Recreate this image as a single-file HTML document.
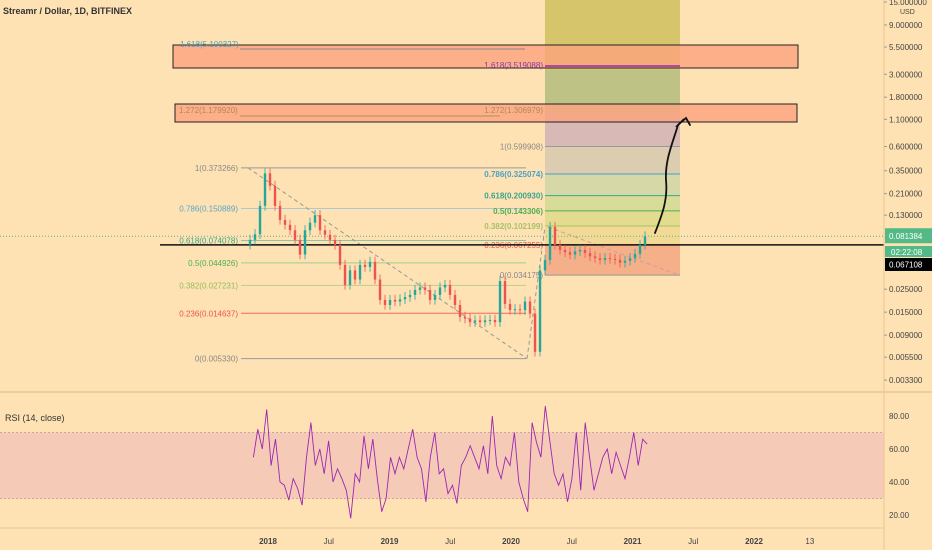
<!DOCTYPE html>
<html><head><meta charset="utf-8">
<style>
html,body{margin:0;padding:0;background:#fee2b3;}
svg{display:block;font-family:"Liberation Sans",sans-serif;}
</style></head>
<body>
<svg id="c" width="932" height="550" viewBox="0 0 932 550" xmlns="http://www.w3.org/2000/svg">
<rect x="0" y="0" width="932" height="550" fill="#fee2b3"/>
<g id="bg"></g>
<g id="fib"></g>
<g id="candles"></g>
<g id="rsi"></g>
<g id="axes"></g>
<text x="3" y="14" font-size="9" font-weight="bold" fill="#333">Streamr / Dollar, 1D, BITFINEX</text>
<text x="5" y="421" font-size="9" fill="#333">RSI (14, close)</text>
</svg>
<script>
// ---- data ----
const priceStart = 2017.852, priceEnd = 2021.103;
const closes = [0.075,0.085,0.16,0.33,0.25,0.16,0.117,0.105,0.093,0.075,0.054,0.093,0.11,0.13,0.093,0.084,0.075,0.067,0.043,0.0275,0.038,0.031,0.043,0.041,0.046,0.031,0.0197,0.0176,0.0197,0.019,0.020,0.021,0.022,0.0246,0.026,0.0246,0.0197,0.022,0.026,0.0275,0.022,0.0176,0.0135,0.013,0.012,0.0125,0.012,0.0125,0.0126,0.012,0.030,0.018,0.0157,0.016,0.0157,0.019,0.0145,0.0062,0.038,0.048,0.10,0.067,0.06,0.057,0.054,0.058,0.060,0.056,0.052,0.050,0.048,0.05,0.049,0.048,0.045,0.047,0.05,0.055,0.067,0.081];
const rsiStart = 2017.88, rsiEnd = 2021.12;
const rsiValues = [55,72,60,84,50,66,40,38,29,42,36,26,55,76,50,60,45,65,40,48,42,35,18,45,40,68,48,66,42,22,30,55,45,55,48,60,72,55,48,28,55,70,45,48,33,38,27,50,55,62,55,48,62,45,80,50,42,55,50,70,40,30,22,76,64,55,86,65,45,38,45,28,42,70,35,76,55,35,45,55,60,45,58,50,42,55,70,50,66,63];
const priceTicks = [15,9,5.5,3,1.8,1.1,0.6,0.35,0.21,0.13,0.025,0.015,0.009,0.0055,0.0033];
const priceTickLabels = ["15.000000","9.000000","5.500000","3.000000","1.800000","1.100000","0.600000","0.350000","0.210000","0.130000","0.025000","0.015000","0.009000","0.005500","0.003300"];
const rsiTicks = [80,60,40,20];
const timeTicks = [2018,2018.5,2019,2019.5,2020,2020.5,2021,2021.5,2022,2022.46];
const timeTickLabels = ["2018","Jul","2019","Jul","2020","Jul","2021","Jul","2022","13"];
const fibLeftLevels = ["1","0.786","0.618","0.5","0.382","0.236","0"];
const fibLeftPrices = [0.373266,0.150889,0.074078,0.044926,0.027231,0.014637,0.005330];
const fibRightLevels = ["1","0.786","0.618","0.5","0.382","0.236","0"];
const fibRightPrices = [0.599908,0.325074,0.200930,0.143306,0.102199,0.067255,0.034175];
const lastPrice = 0.081384, hLinePrice = 0.067108;

// ---- scales ----
const X = t => 268 + (t - 2018) * 121.5;
const Y = p => 2 + 44.9 * Math.log(15 / p);
const RY = v => 416 + (80 - v) * 1.65;
const NS = "http://www.w3.org/2000/svg";
function mk(parent, tag, attrs, txt){
  const e = document.createElementNS(NS, tag);
  for (const k in attrs) e.setAttribute(k, attrs[k]);
  if (txt !== undefined) e.textContent = txt;
  document.getElementById(parent).appendChild(e);
  return e;
}
const PL = 884;

const fx1 = 545, fx2 = 680;
let e;
e = mk("bg","rect",{x:fx1,y:0,width:fx2-fx1,height:Y(3.3),fill:"#d6c56b"});


e = mk("bg","rect",{x:fx1,y:Y(3.3),width:fx2-fx1,height:Y(1.25)-Y(3.3),fill:"#bec385"});


e = mk("bg","rect",{x:fx1,y:Y(1.25),width:fx2-fx1,height:Y(fibRightPrices[0])-Y(1.25),fill:"#d8b9b5"});


const zoneCols = ["#dccdb0","#d6d8a8","#d9dc98","#e3dc8e","#f2d995","#f5b08a"];
for (let i = 0; i < 6; i++){
  e = mk("bg","rect",{x:fx1,y:Y(fibRightPrices[i]),width:fx2-fx1,height:Y(fibRightPrices[i+1])-Y(fibRightPrices[i]),fill:zoneCols[i]});
  
  
}
e = mk("bg","rect",{x:173,y:45,width:625,height:23,fill:"#fca37e",stroke:"#222","stroke-width":1,"fill-opacity":0.8});


e = mk("bg","rect",{x:175,y:104,width:622,height:18,fill:"#fca37e",stroke:"#222","stroke-width":1,"fill-opacity":0.8});


e = mk("bg","text",{x:180,y:47,"font-size":8,fill:"#4a9fc0"},"1.618(5.100327)");


mk("bg","line",{x1:240,y1:49,x2:525,y2:49,stroke:"#888","stroke-width":1});
e = mk("bg","text",{x:543,y:68,"font-size":8,fill:"#8a3aa0","text-anchor":"end"},"1.618(3.519088)");


mk("bg","line",{x1:545,y1:66,x2:680,y2:66,stroke:"#9c27b0","stroke-width":1.5});
e = mk("bg","text",{x:179,y:113,"font-size":8,fill:"#b08a50"},"1.272(1.179920)");


mk("bg","line",{x1:240,y1:116,x2:500,y2:116,stroke:"#b09060","stroke-width":1});
e = mk("bg","text",{x:543,y:113,"font-size":8,fill:"#b08a50","text-anchor":"end"},"1.272(1.306979)");



const leftCols = ["#999","#a9c8da","#8cc4a8","#9ccf8a","#b8d08a","#f06a5e","#999"];
const leftTxt = ["#888","#5aa6c8","#3aa58a","#4caf50","#8fbf5a","#ef5350","#888"];
for (let i = 0; i < fibLeftPrices.length; i++){
  const y = Y(fibLeftPrices[i]);
  mk("fib","line",{x1:241,y1:y,x2:526,y2:y,stroke:leftCols[i],"stroke-width":1});
  e = mk("fib","text",{x:238,y:y+3,"font-size":8,fill:leftTxt[i],"text-anchor":"end"},fibLeftLevels[i]+"("+fibLeftPrices[i].toFixed(6)+")");
  
  
}
const rightCols = ["#999","#4aa0c8","#3aa58a","#4caf50","#a9c06a","#ef5350","#999"];
for (let i = 0; i < fibRightPrices.length; i++){
  const y = Y(fibRightPrices[i]);
  mk("fib","line",{x1:545,y1:y,x2:680,y2:y,stroke:rightCols[i],"stroke-width":1});
  e = mk("fib","text",{x:543,y:y+3,"font-size":8,fill:rightCols[i]==="#999"?"#888":rightCols[i],"text-anchor":"end","font-weight":i>0&&i<5?"bold":"normal"},fibRightLevels[i]+"("+fibRightPrices[i].toFixed(6)+")");
  
  
}
mk("fib","line",{x1:248,y1:Y(fibLeftPrices[0]),x2:527,y2:Y(fibLeftPrices[6]),stroke:"#999","stroke-width":1,"stroke-dasharray":"4,3"});
mk("fib","line",{x1:527,y1:Y(fibLeftPrices[6]),x2:545,y2:Y(0.1),stroke:"#999","stroke-width":1,"stroke-dasharray":"4,3"});
mk("fib","line",{x1:548,y1:Y(0.1),x2:680,y2:Y(0.034),stroke:"#d49a9a","stroke-width":1,"stroke-dasharray":"4,3"});
e = mk("fib","line",{x1:0,y1:Y(lastPrice),x2:PL,y2:Y(lastPrice),stroke:"#53b987","stroke-width":1,"stroke-dasharray":"1,2"});


e = mk("fib","line",{x1:160,y1:Y(hLinePrice),x2:PL,y2:Y(hLinePrice),stroke:"#111","stroke-width":1.6});


e = mk("fib","path",{d:"M655,233 C662,215 668,200 666,180 C665,160 672,145 678,125 L686,118 L690,125",fill:"none",stroke:"#111","stroke-width":1.8,"stroke-linecap":"round"});


mk("fib","path",{d:"M676,127 L684,119",fill:"none",stroke:"#111","stroke-width":1.8});

const step = (priceEnd - priceStart) / (closes.length - 1);
for (let i = 0; i < closes.length; i++){
  const t = priceStart + i * step;
  const x = X(t);
  const o = i === 0 ? closes[0] * 0.9 : closes[i-1];
  const c = closes[i];
  const up = c >= o;
  const col = up ? "#26a69a" : "#ef5350";
  const hi = Math.max(o, c) * 1.12, lo = Math.min(o, c) * 0.9;
  mk("candles","line",{x1:x,y1:Y(hi),x2:x,y2:Y(lo),stroke:col,"stroke-width":0.8});
  const y1 = Y(Math.max(o, c)), y2 = Y(Math.min(o, c));
  e = mk("candles","rect",{x:x-1.2,y:y1,width:2.4,height:Math.max(1,y2-y1),fill:col});
  
  
}

mk("rsi","line",{x1:0,y1:392,x2:932,y2:392,stroke:"#e8c690","stroke-width":1.5});
e = mk("rsi","rect",{x:0,y:RY(70),width:PL,height:RY(30)-RY(70),fill:"#f5cbb8"});


mk("rsi","line",{x1:0,y1:RY(70),x2:PL,y2:RY(70),stroke:"#c8a8a0","stroke-dasharray":"2,2"});
mk("rsi","line",{x1:0,y1:RY(30),x2:PL,y2:RY(30),stroke:"#c8a8a0","stroke-dasharray":"2,2"});
const rstep = (rsiEnd - rsiStart) / (rsiValues.length - 1);
let d = "";
for (let i = 0; i < rsiValues.length; i++){
  d += (i ? "L" : "M") + X(rsiStart + i * rstep).toFixed(1) + "," + RY(rsiValues[i]).toFixed(1);
}
e = mk("rsi","path",{d:d,fill:"none",stroke:"#9c27b0","stroke-width":0.9});


mk("rsi","line",{x1:0,y1:528,x2:PL,y2:528,stroke:"#e8c690","stroke-width":1});

mk("axes","line",{x1:PL,y1:0,x2:PL,y2:550,stroke:"#e8c690","stroke-width":1});
for (let i = 0; i < priceTicks.length; i++){
  const y = Y(priceTicks[i]);
  mk("axes","line",{x1:PL,y1:y,x2:PL+3,y2:y,stroke:"#999"});
  e = mk("axes","text",{x:889,y:y+3,"font-size":8,fill:"#444"},priceTickLabels[i]);
  
  
}
e = mk("axes","text",{x:900,y:14,"font-size":7,fill:"#444"},"USD");


for (let i = 0; i < rsiTicks.length; i++){
  const y = RY(rsiTicks[i]);
  e = mk("axes","text",{x:889,y:y+3,"font-size":8,fill:"#444"},rsiTicks[i].toFixed(2));
  
  
}
for (let i = 0; i < timeTicks.length; i++){
  e = mk("axes","text",{x:X(timeTicks[i]),y:544,"font-size":8,fill:"#444","text-anchor":"middle","font-weight":/^\d{4}$/.test(timeTickLabels[i])?"bold":"normal"},timeTickLabels[i]);
  
  
}
e = mk("axes","rect",{x:885,y:Y(lastPrice)-8,width:47,height:15,fill:"#53b987"});


mk("axes","text",{x:889,y:Y(lastPrice)+3,"font-size":8,fill:"#fff"},lastPrice.toFixed(6));
e = mk("axes","rect",{x:885,y:246,width:47,height:11,fill:"#53b987"});


mk("axes","text",{x:891,y:255,"font-size":8,fill:"#fff"},"02:22:08");
e = mk("axes","rect",{x:885,y:258,width:47,height:13,fill:"#000"});


mk("axes","text",{x:889,y:267.5,"font-size":8,fill:"#fff"},hLinePrice.toFixed(6));
</script>
</body></html>
